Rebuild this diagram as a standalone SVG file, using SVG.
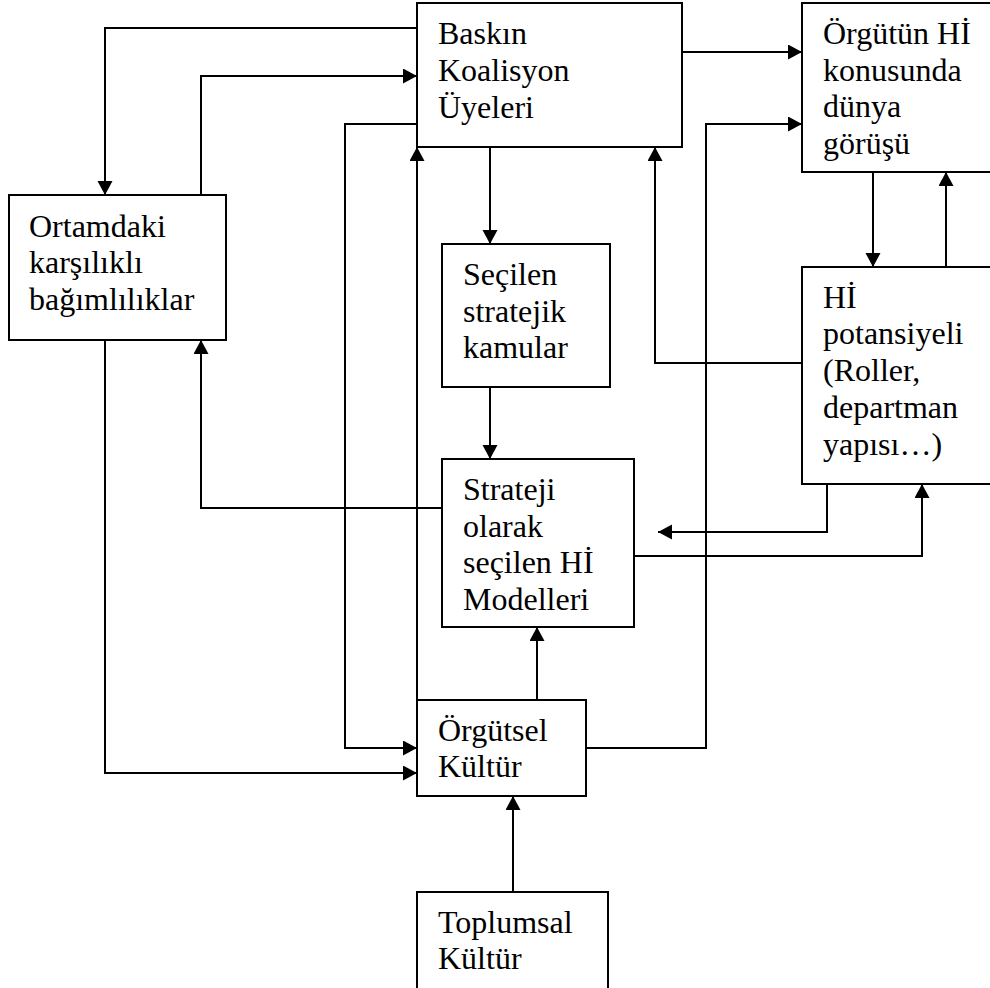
<svg xmlns="http://www.w3.org/2000/svg" width="990" height="988" viewBox="0 0 990 988">
<defs>
<style>
.box{fill:#fff;stroke:#000;stroke-width:2}
.lbl{font-family:"Liberation Serif","Times New Roman",serif;font-size:32px;fill:#000}
.c{fill:none;stroke:#000;stroke-width:2}
</style>
<marker id="ah" markerUnits="userSpaceOnUse" markerWidth="15" markerHeight="16" refX="14" refY="7.5" orient="auto">
<path d="M0,0 L14,7.5 L0,15 z" fill="#000"/>
</marker>
</defs>
<rect width="990" height="988" fill="#fff"/>
<g id="connectors">
<path class="c" d="M417,28 H105 V195" marker-end="url(#ah)"/>
<path class="c" d="M201,195 V76 H417" marker-end="url(#ah)"/>
<path class="c" d="M417,124 H345 V748 H417" marker-end="url(#ah)"/>
<path class="c" d="M417,700 V147" marker-end="url(#ah)"/>
<path class="c" d="M490,147 V244" marker-end="url(#ah)"/>
<path class="c" d="M802,363 H655 V147" marker-end="url(#ah)"/>
<path class="c" d="M682,52 H802" marker-end="url(#ah)"/>
<path class="c" d="M586,748 H706 V124 H802" marker-end="url(#ah)"/>
<path class="c" d="M873,172 V267" marker-end="url(#ah)"/>
<path class="c" d="M946,267 V172" marker-end="url(#ah)"/>
<path class="c" d="M490,387 V459" marker-end="url(#ah)"/>
<path class="c" d="M442,508 H201 V340" marker-end="url(#ah)"/>
<path class="c" d="M827,484 V532 H658" marker-end="url(#ah)"/>
<path class="c" d="M634,556 H922 V484" marker-end="url(#ah)"/>
<path class="c" d="M537,700 V627" marker-end="url(#ah)"/>
<path class="c" d="M105,340 V773 H417" marker-end="url(#ah)"/>
<path class="c" d="M513,892 V796" marker-end="url(#ah)"/>
</g>
<g id="baskin">
<rect class="box" x="417" y="3" width="265" height="144"/>
<text class="lbl"><tspan x="438" y="44">Baskın</tspan><tspan x="438" y="81">Koalisyon</tspan><tspan x="438" y="118">Üyeleri</tspan></text>
</g>
<g id="orgutun">
<rect class="box" x="802" y="3" width="200" height="169"/>
<text class="lbl"><tspan x="823" y="44">Örgütün Hİ</tspan><tspan x="823" y="81">konusunda</tspan><tspan x="823" y="117">dünya</tspan><tspan x="823" y="154">görüşü</tspan></text>
</g>
<g id="ortamdaki">
<rect class="box" x="9" y="195" width="217" height="145"/>
<text class="lbl"><tspan x="29" y="237">Ortamdaki</tspan><tspan x="29" y="273">karşılıklı</tspan><tspan x="29" y="310">bağımlılıklar</tspan></text>
</g>
<g id="secilen">
<rect class="box" x="442" y="244" width="168" height="143"/>
<text class="lbl"><tspan x="463" y="285">Seçilen</tspan><tspan x="463" y="322">stratejik</tspan><tspan x="463" y="358">kamular</tspan></text>
</g>
<g id="hi-potansiyeli">
<rect class="box" x="802" y="267" width="200" height="217"/>
<text class="lbl"><tspan x="823" y="308">Hİ</tspan><tspan x="823" y="344">potansiyeli</tspan><tspan x="823" y="381">(Roller,</tspan><tspan x="823" y="418">departman</tspan><tspan x="823" y="455">yapısı…)</tspan></text>
</g>
<g id="strateji">
<rect class="box" x="442" y="459" width="192" height="168"/>
<text class="lbl"><tspan x="463" y="500">Strateji</tspan><tspan x="463" y="537">olarak</tspan><tspan x="463" y="573">seçilen Hİ</tspan><tspan x="463" y="610">Modelleri</tspan></text>
</g>
<g id="orgutsel">
<rect class="box" x="417" y="700" width="169" height="96"/>
<text class="lbl"><tspan x="438" y="741">Örgütsel</tspan><tspan x="438" y="777">Kültür</tspan></text>
</g>
<g id="toplumsal">
<rect class="box" x="417" y="892" width="191" height="110"/>
<text class="lbl"><tspan x="438" y="933">Toplumsal</tspan><tspan x="438" y="969">Kültür</tspan></text>
</g>
</svg>
